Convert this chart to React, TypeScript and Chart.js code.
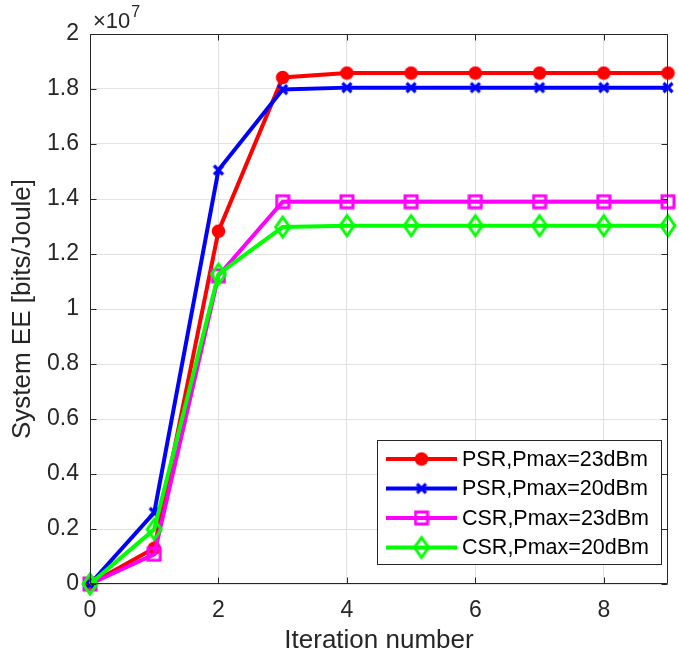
import React, { useEffect, useRef } from 'react';
import { Chart, registerables } from 'chart.js';

Chart.register(...registerables);

// ---- data ----
const iterations = [0, 1, 2, 3, 4, 5, 6, 7, 8, 9];
const psr23 = [0, 0.13e7, 1.283e7, 1.842e7, 1.858e7, 1.858e7, 1.858e7, 1.858e7, 1.858e7, 1.858e7];
const psr20 = [0, 0.26e7, 1.505e7, 1.798e7, 1.805e7, 1.805e7, 1.805e7, 1.805e7, 1.805e7, 1.805e7];
const csr23 = [0, 0.108e7, 1.121e7, 1.39e7, 1.39e7, 1.39e7, 1.39e7, 1.39e7, 1.39e7, 1.39e7];
const csr20 = [0, 0.199e7, 1.127e7, 1.298e7, 1.303e7, 1.303e7, 1.303e7, 1.303e7, 1.303e7, 1.303e7];
const seriesLabels = ['PSR,Pmax=23dBm', 'PSR,Pmax=20dBm', 'CSR,Pmax=23dBm', 'CSR,Pmax=20dBm'];
const seriesColors = ['#ff0000', '#0000ff', '#ff00ff', '#00ff00'];
const xTickLabels = ['0', '2', '4', '6', '8'];
const yTickLabels = ['0', '0.2', '0.4', '0.6', '0.8', '1', '1.2', '1.4', '1.6', '1.8', '2'];
const xTitle = 'Iteration number';
const yTitle = 'System EE [bits/Joule]';
const exponentBase = '\u00d710';
const exponentPower = '7';

const FONT = '"Liberation Sans", Arial, Helvetica, sans-serif';
const AXIS_COLOR = '#262626';

function makeCanvas(w: number, h: number) {
  const c = document.createElement('canvas');
  c.width = w;
  c.height = h;
  return c;
}

function circleMarker(color: string) {
  const c = makeCanvas(15, 15);
  const g = c.getContext('2d')!;
  g.fillStyle = color;
  g.beginPath();
  g.arc(7.5, 7.5, 6.8, 0, Math.PI * 2);
  g.fill();
  return c;
}
function xMarker(color: string) {
  const c = makeCanvas(14, 14);
  const g = c.getContext('2d')!;
  g.strokeStyle = color;
  g.lineWidth = 3.2;
  g.lineCap = 'butt';
  g.beginPath();
  g.moveTo(2.5, 2.5);
  g.lineTo(11.5, 11.5);
  g.moveTo(11.5, 2.5);
  g.lineTo(2.5, 11.5);
  g.stroke();
  return c;
}
function squareMarker(color: string) {
  const c = makeCanvas(16, 16);
  const g = c.getContext('2d')!;
  g.strokeStyle = color;
  g.lineWidth = 3;
  g.strokeRect(2, 2, 12, 12);
  return c;
}
function diamondMarker(color: string) {
  const c = makeCanvas(22, 28);
  const g = c.getContext('2d')!;
  g.strokeStyle = color;
  g.lineWidth = 3;
  g.lineJoin = 'miter';
  g.beginPath();
  g.moveTo(11, 4);
  g.lineTo(18, 14);
  g.lineTo(11, 24);
  g.lineTo(4, 14);
  g.closePath();
  g.stroke();
  return c;
}

export default function App() {
  const ref = useRef<HTMLCanvasElement | null>(null);

  useEffect(() => {
    document.body.style.margin = '0';
    const canvas = ref.current;
    if (!canvas) return;

    const markers = [
      circleMarker(seriesColors[0]),
      xMarker(seriesColors[1]),
      squareMarker(seriesColors[2]),
      diamondMarker(seriesColors[3]),
    ];
    const series = [psr23, psr20, csr23, csr20];

    const decor = {
      id: 'decor',
      afterDraw(chart: any) {
        const ctx = chart.ctx as CanvasRenderingContext2D;
        const a = chart.chartArea;
        const xs = chart.scales.x;
        const ys = chart.scales.y;
        ctx.save();
        // box
        ctx.strokeStyle = AXIS_COLOR;
        ctx.lineWidth = 1;
        const L = Math.round(a.left) + 0.5;
        const R = Math.round(a.right) - 0.5;
        const T = Math.round(a.top) + 0.5;
        const B = Math.round(a.bottom) - 0.5;
        ctx.beginPath();
        ctx.moveTo(L, T);
        ctx.lineTo(R, T);
        ctx.lineTo(R, B);
        ctx.lineTo(L, B);
        ctx.closePath();
        ctx.stroke();
        // inward ticks
        const tl = 6;
        ctx.beginPath();
        xs.ticks.forEach((t: any) => {
          const px = Math.round(xs.getPixelForValue(t.value)) + 0.5;
          ctx.moveTo(px, B);
          ctx.lineTo(px, B - tl);
          ctx.moveTo(px, T);
          ctx.lineTo(px, T + tl);
        });
        ys.ticks.forEach((t: any) => {
          const py = Math.round(ys.getPixelForValue(t.value)) + 0.5;
          ctx.moveTo(L, py);
          ctx.lineTo(L + tl, py);
          ctx.moveTo(R, py);
          ctx.lineTo(R - tl, py);
        });
        ctx.stroke();

        // exponent
        ctx.fillStyle = AXIS_COLOR;
        ctx.textAlign = 'left';
        ctx.textBaseline = 'alphabetic';
        ctx.font = `22px ${FONT}`;
        ctx.fillText(exponentBase, 93, 28);
        const w = ctx.measureText(exponentBase).width;
        ctx.font = `16px ${FONT}`;
        ctx.fillText(exponentPower, 93 + w + 1, 17);

        // axis titles
        ctx.font = `26px ${FONT}`;
        ctx.textAlign = 'center';
        ctx.textBaseline = 'middle';
        ctx.fillText(xTitle, (a.left + a.right) / 2, 641);
        ctx.save();
        ctx.translate(23, (a.top + a.bottom) / 2);
        ctx.rotate(-Math.PI / 2);
        ctx.fillText(yTitle, 0, 0);
        ctx.restore();

        // legend
        const bx = 377.5, by = 440.5, bw = 284, bh = 124;
        ctx.fillStyle = '#ffffff';
        ctx.fillRect(bx, by, bw, bh);
        ctx.strokeStyle = AXIS_COLOR;
        ctx.lineWidth = 1;
        ctx.strokeRect(bx, by, bw, bh);
        const rowY = [459, 488.5, 518, 547.5];
        ctx.font = `21.5px ${FONT}`;
        ctx.textAlign = 'left';
        ctx.textBaseline = 'middle';
        seriesLabels.forEach((lab, i) => {
          const y = rowY[i];
          ctx.strokeStyle = seriesColors[i];
          ctx.lineWidth = 4;
          ctx.beginPath();
          ctx.moveTo(386, y);
          ctx.lineTo(457, y);
          ctx.stroke();
          const m = markers[i];
          ctx.drawImage(m, 421.5 - m.width / 2, y - m.height / 2);
          ctx.fillStyle = '#000000';
          ctx.fillText(lab, 462, y + 1);
        });
        ctx.restore();
      },
    };

    const chart = new Chart(canvas, {
      type: 'line',
      data: {
        labels: iterations,
        datasets: series.map((d, i) => ({
          label: seriesLabels[i],
          data: d.map((v, k) => ({ x: iterations[k], y: v })),
          borderColor: seriesColors[i],
          backgroundColor: seriesColors[i],
          borderWidth: 4,
          pointStyle: markers[i] as any,
          pointRadius: 7,
          pointHoverRadius: 7,
          tension: 0,
          fill: false,
          clip: false as any,
          order: 3 - i,
        })),
      },
      options: {
        responsive: false,
        animation: false,
        events: [],
        layout: { padding: { top: 34, right: 1, left: 0, bottom: 0 } },
        plugins: {
          legend: { display: false },
          tooltip: { enabled: false },
          title: { display: false },
        },
        scales: {
          x: {
            type: 'linear',
            min: 0,
            max: 9,
            afterFit: (s: any) => { s.height = 80; },
            ticks: {
              stepSize: 2,
              includeBounds: false,
              padding: 13,
              color: AXIS_COLOR,
              font: { family: FONT, size: 23 },
              maxRotation: 0,
              callback: (_v: any, idx: number) => xTickLabels[idx],
            },
            grid: { color: '#e2e2e2', lineWidth: 1, drawTicks: false },
            border: { display: false },
          },
          y: {
            type: 'linear',
            min: 0,
            max: 2e7,
            afterFit: (s: any) => { s.width = 90; },
            ticks: {
              stepSize: 2e6,
              includeBounds: false,
              padding: 11,
              color: AXIS_COLOR,
              font: { family: FONT, size: 23 },
              callback: (_v: any, idx: number) => yTickLabels[idx],
            },
            grid: { color: '#e2e2e2', lineWidth: 1, drawTicks: false },
            border: { display: false },
          },
        },
      },
      plugins: [decor],
    });

    return () => chart.destroy();
  }, []);

  return (
    <canvas
      ref={ref}
      width={679}
      height={664}
      style={{ display: 'block', width: '679px', height: '664px' }}
    />
  );
}
